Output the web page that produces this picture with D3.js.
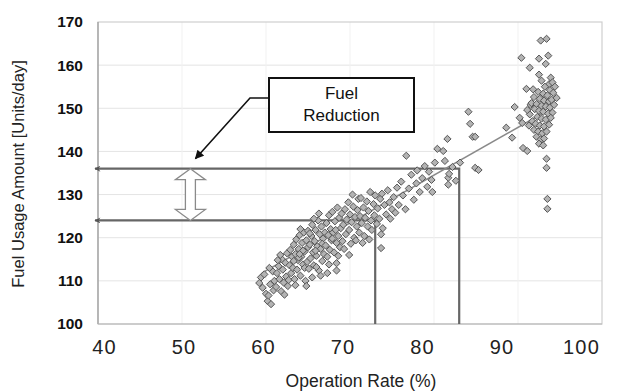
<!DOCTYPE html>
<html><head><meta charset="utf-8">
<script src="https://cdn.jsdelivr.net/npm/d3@7"></script>
<style>body{margin:0;background:#fff} svg{display:block}</style>
</head><body>
<svg id="c" width="620" height="392"></svg>
<script>
// ---- data ----
const operationRate = [
59.2,59.4,59.6,59.8,60.0,60.2,60.3,60.5,60.6,60.8,61.0,60.9,60.4,
61.2,61.3,61.5,61.6,61.8,61.9,62.0,62.1,62.3,62.4,62.5,62.6,62.8,62.9,63.0,62.2,61.7,62.7,63.1,61.4,
63.2,63.3,63.4,63.5,63.6,63.7,63.8,63.9,64.0,64.1,64.2,64.3,64.4,64.5,64.6,64.7,64.8,64.9,65.0,63.5,64.1,64.6,63.9,64.4,65.0,63.3,64.8,64.0,
65.1,65.2,65.3,65.4,65.5,65.6,65.7,65.8,65.9,66.0,66.1,66.2,66.3,66.4,66.5,66.6,66.7,66.8,66.9,67.0,65.5,66.3,65.9,66.7,65.2,66.0,66.5,65.7,
68.4,68.4,69.9,73.7,67.3,
67.1,67.2,67.3,67.4,67.5,67.6,67.7,67.8,67.9,68.0,68.1,68.2,68.4,68.5,68.6,68.7,68.8,68.9,69.0,67.5,68.3,67.9,68.6,
69.1,69.2,69.4,69.5,69.6,69.8,69.9,70.0,70.1,70.2,70.4,70.5,70.6,70.8,70.9,71.0,69.3,70.3,70.7,
71.1,71.2,71.3,71.4,71.6,71.7,71.8,72.0,72.1,72.2,72.4,72.5,72.6,72.8,72.9,73.0,71.5,72.3,
73.2,73.3,73.5,73.6,73.8,73.9,74.1,74.3,74.5,74.7,74.8,75.0,73.7,
75.2,75.4,75.6,75.8,76.1,76.3,76.6,76.7,77.0,77.3,77.6,77.9,
78.0,78.3,78.6,78.9,79.2,79.4,79.7,79.8,80.1,80.4,81.1,81.3,81.6,81.7,81.7,81.8,82.2,82.6,
83.1,84.1,84.3,84.6,84.9,84.9,85.3,
88.6,89.3,89.6,90.2,90.5,90.6,91.1,90.4,91.0,91.4,91.3,91.5,
92.7,93.4,92.5,93.6,93.3,92.5,93.9,93.7,94.1,93.2,93.8,92.4,93.0,93.5,94.2,91.9,92.6,93.1,93.7,94.0,
91.6,92.2,92.8,93.3,93.8,94.3,92.0,92.5,93.0,93.6,94.1,91.4,92.3,92.8,93.3,93.9,91.7,92.1,92.6,93.1,
93.7,91.9,92.4,92.9,93.4,92.2,92.7,93.1,92.5,93.0,93.4,93.4,93.5,93.5,91.1,94.4,94.6,91.8,92.8
];
const fuelUsage = [
109.5,110.8,108.4,111.5,107.0,105.3,106.6,109.2,104.6,112.2,110.0,107.8,113.0,
108.6,111.8,113.4,110.4,107.6,115.0,112.6,109.6,114.2,111.0,116.4,108.8,113.6,117.2,111.8,106.8,116.0,110.2,115.6,114.8,
113.0,118.4,110.4,116.2,119.6,112.6,114.8,117.4,120.6,111.2,115.6,118.8,113.8,121.2,116.8,110.0,119.4,114.4,117.8,109.0,122.0,113.0,115.4,117.0,121.6,114.6,108.8,116.2,
112.8,118.4,115.2,120.4,123.0,116.6,113.6,119.2,121.8,115.8,118.0,124.0,112.4,120.8,117.4,122.6,114.6,119.8,116.2,121.2,110.8,125.6,117.0,118.6,121.0,113.2,111.2,124.4,
114.1,112.4,116.0,117.6,111.8,
118.2,123.4,115.6,120.6,125.2,117.2,122.0,119.4,126.0,121.2,116.6,123.8,118.8,127.0,120.4,124.6,117.8,122.2,125.6,113.8,121.8,119.8,115.8,
119.2,123.0,126.6,120.8,124.2,128.2,121.8,125.4,118.6,123.6,127.2,120.0,124.8,122.6,126.4,129.0,117.4,130.0,119.4,
121.2,125.0,129.2,123.4,127.0,120.4,124.6,128.4,122.6,126.2,130.6,124.0,121.8,127.8,125.2,129.8,118.8,119.6,
123.2,126.8,124.4,129.0,130.2,122.2,127.6,125.4,131.0,128.2,124.4,126.6,120.8,
129.4,125.8,131.6,127.6,133.0,129.8,126.6,139.0,131.4,134.6,128.8,132.6,
135.6,130.6,133.8,136.6,131.8,135.3,133.4,130.6,137.4,140.6,140.1,137.8,142.9,133.9,132.3,134.8,136.4,133.2,
137.4,149.2,146.4,143.4,143.4,136.2,135.7,
145.5,143.2,150.3,147.8,146.6,140.8,140.1,161.7,154.5,159.4,146.0,150.8,
165.7,166.1,161.5,162.2,160.3,157.8,157.1,155.6,156.0,155.0,154.2,153.8,153.4,153.0,153.6,152.6,152.2,151.8,151.6,152.0,
151.2,151.0,150.6,150.4,150.2,150.8,149.8,149.4,149.2,148.8,149.0,148.6,148.0,147.6,147.4,147.8,147.0,146.4,146.0,145.8,
146.2,145.0,144.6,144.2,144.6,143.4,142.8,143.0,141.8,141.4,138.3,136.2,129.0,126.7,149.6,155.0,152.4,154.4,156.4
];
const xTicks = [40, 50, 60, 70, 80, 90, 100];
const yTicks = [100, 110, 120, 130, 140, 150, 160, 170];
const trendRate = [59.5, 93.0];
const trendFuel = [111.8, 148.9];
const refFuel = [136, 124];   // before / after
const refRate = [83, 73];
const arrowRate = 51;
const xTitle = "Operation Rate (%)";
const yTitle = "Fuel Usage Amount [Units/day]";
const calloutText = ["Fuel", "Reduction"];

// ---- chart ----
const svg = d3.select("#c");
const font = "'Liberation Sans', Arial, sans-serif";
const x = d3.scaleLinear().domain([40, 100]).range([98, 602]);
const y = d3.scaleLinear().domain([100, 170]).range([324, 22]);
// tick labels in the source sit slightly off the grid
const xLabel = d3.scaleLinear().domain([40, 100]).range([104, 581]);

const defs = svg.append("defs");
defs.append("marker").attr("id", "smallHead").attr("viewBox", "0 0 10 10")
  .attr("refX", 9).attr("refY", 5).attr("markerWidth", 7).attr("markerHeight", 6)
  .attr("markerUnits", "userSpaceOnUse").attr("orient", "auto-start-reverse")
  .append("path").attr("d", "M0,0 L10,5 L0,10 L3,5 Z").attr("fill", "#555");
defs.append("marker").attr("id", "blackHead").attr("viewBox", "0 0 10 10")
  .attr("refX", 9).attr("refY", 5).attr("markerWidth", 11).attr("markerHeight", 9)
  .attr("markerUnits", "userSpaceOnUse").attr("orient", "auto")
  .append("path").attr("d", "M0,0 L10,5 L0,10 Z").attr("fill", "#111");

// grid
svg.append("g").selectAll("line").data(yTicks.slice(1, -1)).join("line")
  .attr("x1", x(40)).attr("x2", x(100)).attr("y1", d => y(d)).attr("y2", d => y(d))
  .attr("stroke", "#e4e4e4").attr("stroke-width", 1);
svg.append("g").selectAll("line").data(xTicks.slice(1, -1)).join("line")
  .attr("x1", d => x(d)).attr("x2", d => x(d)).attr("y1", y(170)).attr("y2", y(100))
  .attr("stroke", "#f1f1f1").attr("stroke-width", 1);
svg.append("rect").attr("x", x(40)).attr("y", y(170))
  .attr("width", x(100) - x(40)).attr("height", y(100) - y(170))
  .attr("fill", "none").attr("stroke", "#cfcfcf").attr("stroke-width", 1.2);
svg.append("line").attr("x1", x(40)).attr("x2", x(40)).attr("y1", y(170)).attr("y2", y(100))
  .attr("stroke", "#9a9a9a").attr("stroke-width", 1.2);
svg.append("line").attr("x1", x(40)).attr("x2", x(100)).attr("y1", y(100)).attr("y2", y(100))
  .attr("stroke", "#b5b5b5").attr("stroke-width", 1.2);

// axes
const gy = svg.append("g").attr("transform", `translate(${x(40)},0)`)
  .call(d3.axisLeft(y).tickValues(yTicks).tickSize(0).tickPadding(15).tickFormat(d3.format("d")));
gy.select(".domain").remove();
gy.selectAll("text").attr("font-family", font).attr("font-size", 15.5)
  .attr("font-weight", "bold").attr("fill", "#111");

const gx = svg.append("g").attr("transform", `translate(0,${y(100)})`)
  .call(d3.axisBottom(xLabel).tickValues(xTicks).tickSize(0).tickPadding(16).tickFormat(d3.format("d")));
gx.select(".domain").remove();
gx.selectAll("text").attr("font-family", font).attr("font-size", 20)
  .attr("letter-spacing", "1.2px").attr("fill", "#222");

svg.append("text").attr("x", 361).attr("y", 387).attr("text-anchor", "middle")
  .attr("font-family", font).attr("font-size", 17.5).attr("fill", "#222").text(xTitle);
svg.append("text").attr("transform", "translate(24,174) rotate(-90)").attr("text-anchor", "middle")
  .attr("font-family", font).attr("font-size", 16.5).attr("fill", "#222").text(yTitle);

// reference lines
refFuel.forEach((f, i) => {
  svg.append("path")
    .attr("d", `M${x(40) - 3},${y(f)} H${x(refRate[i])} V${y(100)}`)
    .attr("fill", "none").attr("stroke", "#666").attr("stroke-width", 2.2)
    .attr("marker-start", "url(#smallHead)");
});

// trend line
svg.append("path")
  .attr("d", d3.line().x((d, i) => x(trendRate[i])).y(d => y(d))(trendFuel))
  .attr("fill", "none").attr("stroke", "#8a8a8a").attr("stroke-width", 1.6);

// points
const pts = operationRate.map((r, i) => [r, fuelUsage[i]]);
svg.append("g").selectAll("path").data(pts).join("path")
  .attr("transform", d => `translate(${x(d[0])},${y(d[1])})`)
  .attr("d", "M0,-3.6 L3.6,0 L0,3.6 L-3.6,0 Z")
  .attr("fill", "#b3b3b3").attr("stroke", "#555").attr("stroke-width", 1);

// hollow double arrow
const cx = x(arrowRate), t = y(refFuel[0]), b = y(refFuel[1]);
const hw = 15, sw = 5, hh = 11;
svg.append("path")
  .attr("d", `M${cx},${t} L${cx + hw},${t + hh} L${cx + sw},${t + hh} L${cx + sw},${b - hh} L${cx + hw},${b - hh} L${cx},${b} L${cx - hw},${b - hh} L${cx - sw},${b - hh} L${cx - sw},${t + hh} L${cx - hw},${t + hh} Z`)
  .attr("fill", "#fff").attr("stroke", "#8a8a8a").attr("stroke-width", 1.3);

// callout
svg.append("rect").attr("x", 269).attr("y", 78).attr("width", 145).attr("height", 54)
  .attr("fill", "#fff").attr("stroke", "#111").attr("stroke-width", 2);
calloutText.forEach((s, i) => {
  svg.append("text").attr("x", 341.5).attr("y", 99 + i * 22).attr("text-anchor", "middle")
    .attr("font-family", font).attr("font-size", 17).attr("fill", "#111").text(s);
});
svg.append("path").attr("d", `M269,98 L250,98 L${cx + 5},${t - 10}`)
  .attr("fill", "none").attr("stroke", "#111").attr("stroke-width", 1.6)
  .attr("marker-end", "url(#blackHead)");
</script>
</body></html>
